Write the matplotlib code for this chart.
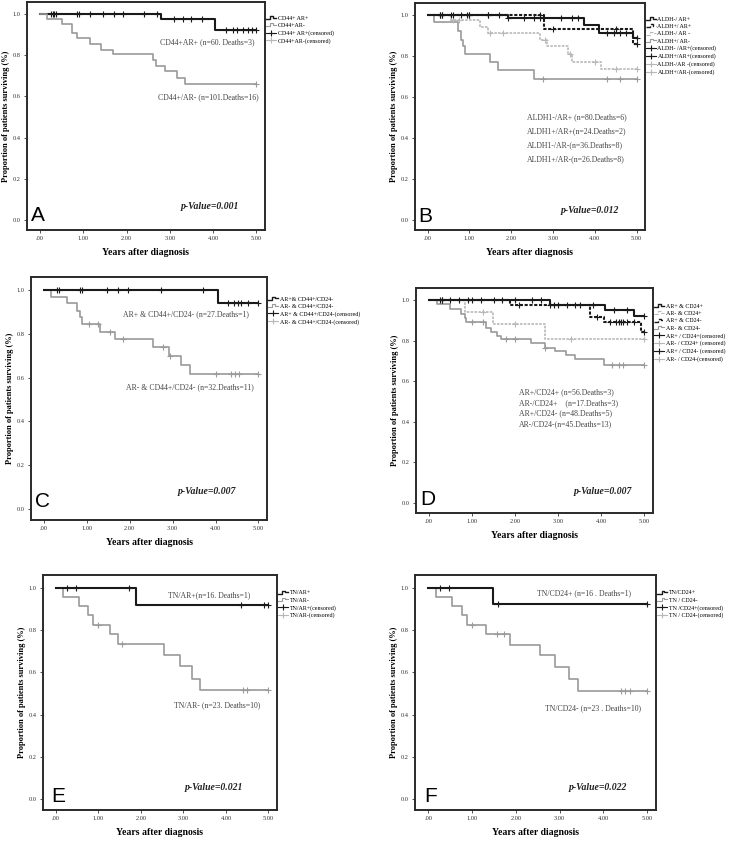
import matplotlib
matplotlib.use('Agg')
import matplotlib.pyplot as plt
import numpy as np
from matplotlib.lines import Line2D
from matplotlib.legend_handler import HandlerBase

plt.rcParams['font.family'] = ['Liberation Serif', 'DejaVu Serif']

# ---- panel A : CD44 / AR
a_pos_t = [0, 2.80, 4.05]
a_pos_s = [1.0, 0.979, 0.925]
a_pos_c = [0.25, 0.3, 0.33, 0.37, 0.85, 0.9, 1.15, 1.45, 1.7, 1.93, 2.4, 2.7,
           3.1, 3.3, 3.5, 3.75, 4.3, 4.45, 4.55, 4.7, 4.8, 4.9, 5.0]
a_neg_t = [0, 0.17, 0.52, 0.75, 0.85, 1.16, 1.41, 1.68, 2.62, 2.69, 2.89, 3.16, 3.35]
a_neg_s = [1.0, 0.979, 0.955, 0.909, 0.885, 0.857, 0.828, 0.806, 0.777, 0.748, 0.723, 0.691, 0.660]
a_neg_c = [5.0]

# ---- panel B : ALDH1 / AR
b1_t = [0, 1.93, 3.75, 4.10, 4.92]
b1_s = [1.0, 0.987, 0.952, 0.915, 0.890]
b1_c = [0.3, 0.35, 0.55, 0.8, 0.95, 1.0, 1.45, 1.7, 1.93, 2.3, 2.55, 2.7, 3.2,
        3.45, 3.6, 4.3, 4.45, 4.6, 4.75, 5.0]
b2_t = [0, 2.78, 4.92]
b2_s = [1.0, 0.935, 0.860]
b2_c = [0.3, 0.35, 0.6, 1.0, 1.45, 2.7, 3.0, 4.5, 5.0]
b3_t = [0, 0.55, 1.25, 1.45, 2.70, 2.85, 3.35, 3.45, 4.15]
b3_s = [1.0, 0.977, 0.945, 0.914, 0.880, 0.850, 0.810, 0.770, 0.735]
b3_c = [0.6, 0.75, 1.5, 1.8, 2.8, 3.4, 4.0, 4.5, 5.0]
b4_t = [0, 0.15, 0.74, 0.80, 0.85, 0.89, 1.50, 1.68, 2.55]
b4_s = [1.0, 0.965, 0.925, 0.880, 0.850, 0.810, 0.770, 0.730, 0.687]
b4_c = [2.75, 4.3, 4.6, 5.0]

# ---- panel C : AR & CD44+/CD24-
c_pos_t = [0, 4.06]
c_pos_s = [1.0, 0.940]
c_pos_c = [0.3, 0.35, 0.85, 0.9, 1.48, 1.72, 1.95, 2.72, 3.72, 4.3, 4.42, 4.52,
           4.6, 4.75, 5.0]
c_neg_t = [0, 0.17, 0.55, 0.78, 0.84, 0.89, 1.31, 1.65, 2.54, 2.91, 3.20, 3.40]
c_neg_s = [1.0, 0.969, 0.939, 0.906, 0.875, 0.844, 0.810, 0.777, 0.738, 0.700, 0.660, 0.617]
c_neg_c = [1.05, 1.25, 1.55, 1.85, 2.78, 2.95, 4.0, 4.35, 4.45, 4.55, 5.0]

# ---- panel D : AR / CD24
d1_t = [0, 2.80, 4.09, 4.77]
d1_s = [1.0, 0.975, 0.951, 0.920]
d1_c = [0.3, 0.5, 0.7, 0.9, 1.0, 1.2, 1.5, 1.7, 2.0, 2.4, 2.6, 2.8, 3.0, 3.2,
        3.4, 3.8, 4.3, 4.6, 5.0]
d2_t = [0, 0.83, 1.49, 2.69]
d2_s = [1.0, 0.943, 0.880, 0.810]
d2_c = [1.25, 2.0, 3.3, 5.0]
d3_t = [0, 1.88, 3.73, 4.07, 4.92]
d3_s = [1.0, 0.975, 0.916, 0.892, 0.843]
d3_c = [0.25, 0.3, 2.1, 2.9, 3.5, 3.9, 4.2, 4.35, 4.4, 4.45, 4.5, 4.6, 4.75, 5.0]
d4_t = [0, 0.18, 0.49, 0.74, 0.83, 0.87, 1.33, 1.45, 1.57, 1.68, 2.38, 2.69,
        2.92, 3.19, 3.38, 4.07]
d4_s = [1.0, 0.980, 0.955, 0.930, 0.910, 0.890, 0.865, 0.845, 0.825, 0.810,
        0.790, 0.765, 0.749, 0.728, 0.710, 0.679]
d4_c = [1.0, 1.25, 1.8, 2.0, 2.7, 4.25, 4.4, 4.5, 5.0]

# ---- panel E : TN / AR
e_pos_t = [0, 1.88]
e_pos_s = [1.0, 0.917]
e_pos_c = [0.27, 0.47, 1.72, 4.35, 4.9, 5.0]
e_neg_t = [0, 0.18, 0.54, 0.76, 0.88, 1.28, 1.47, 2.55, 2.91, 3.21, 3.39]
e_neg_s = [1.0, 0.957, 0.913, 0.870, 0.826, 0.780, 0.735, 0.680, 0.630, 0.570, 0.515]
e_neg_c = [1.0, 1.55, 4.4, 4.5, 5.0]

# ---- panel F : TN / CD24
f_pos_t = [0, 1.49]
f_pos_s = [1.0, 0.925]
f_pos_c = [0.27, 0.48, 1.6, 5.0]
f_neg_t = [0, 0.17, 0.54, 0.78, 0.88, 1.31, 1.86, 2.55, 2.90, 3.21, 3.42]
f_neg_s = [1.0, 0.957, 0.913, 0.870, 0.826, 0.780, 0.728, 0.680, 0.626, 0.570, 0.513]
f_neg_c = [1.0, 1.58, 1.72, 4.4, 4.5, 4.6, 5.0]

x_ticks = [0, 1, 2, 3, 4, 5]
x_ticklabels = ['.00', '1.00', '2.00', '3.00', '4.00', '5.00']
y_ticks = [0, 0.2, 0.4, 0.6, 0.8, 1.0]
y_ticklabels = ['0.0', '0.2', '0.4', '0.6', '0.8', '1.0']

BLK = '#1a1a1a'
GRY = '#9a9a9a'
LGRY = '#b8b8b8'
styles = {
    'k': dict(color=BLK, lw=1.5, ls='-'),
    'kd': dict(color=BLK, lw=1.5, ls=(0, (1.5, 0.8))),
    'g': dict(color=GRY, lw=1.2, ls='-'),
    'gd': dict(color=LGRY, lw=1.2, ls=(0, (1.5, 0.8))),
}
ANN = dict(fontsize=5.6, va='center', color='#444444')


class StepHandler(HandlerBase):
    def create_artists(self, legend, orig, xd, yd, w, h, fs, trans):
        x0, y0 = -xd, -yd
        xs = np.array([0, 0.45, 0.45, 0.75, 0.75, 1.0]) * w + x0
        ys = np.array([0.2, 0.2, 0.9, 0.9, 0.55, 0.55]) * h + y0
        ln = Line2D(xs, ys, color=orig.get_color(), lw=orig.get_linewidth(),
                    ls=orig.get_linestyle(), transform=trans)
        return [ln]


class CensHandler(HandlerBase):
    def create_artists(self, legend, orig, xd, yd, w, h, fs, trans):
        x0, y0 = -xd, -yd
        ln = Line2D([x0, x0 + w], [y0 + h / 2, y0 + h / 2], color=orig.get_color(),
                    lw=0.8, transform=trans)
        mk = Line2D([x0 + w / 2], [y0 + h / 2], color=orig.get_color(), marker='+',
                    ms=5, mew=0.8, ls='none', transform=trans)
        return [ln, mk]


class StepKey(Line2D):
    pass


class CensKey(Line2D):
    pass


def surv_at(t, s, c):
    idx = np.searchsorted(t, c, side='right') - 1
    return np.array(s)[idx]


def km(ax, t, s, c, key):
    st = styles[key]
    t_full = list(t) + [5.0]
    s_full = list(s) + [s[-1]]
    ax.step(t_full, s_full, where='post', color=st['color'], lw=st['lw'],
            ls=st['ls'], zorder=3)
    cy = surv_at(np.array(t), s, np.array(c))
    ax.plot(c, cy, ls='none', marker='+', ms=4.5, mew=0.8, color=st['color'], zorder=4)


def frame(ax, letter, pval, pxy, letter_xy):
    ax.set_xlim(-0.3, 5.2)
    ax.set_ylim(-0.05, 1.06)
    ax.set_xticks(x_ticks)
    ax.set_xticklabels(x_ticklabels)
    ax.set_yticks(y_ticks)
    ax.set_yticklabels(y_ticklabels)
    ax.tick_params(labelsize=4.6, length=2.5, width=0.6, colors='#333333', pad=2)
    for sp in ax.spines.values():
        sp.set_linewidth(1.4)
        sp.set_color('#2a2a2a')
    ax.set_xlabel('Years after diagnosis', fontsize=7, fontweight='bold', labelpad=5)
    ax.set_ylabel('Proportion of patients surviving (%)', fontsize=6, fontweight='bold',
                  labelpad=2)
    ax.text(pxy[0], pxy[1], 'p-Value=' + pval, fontsize=7, fontweight='bold',
            fontstyle='italic', ha='center', va='center', color='#222222')
    ax.text(letter_xy[0], letter_xy[1], letter, fontsize=15, family='Liberation Sans',
            ha='left', va='bottom', color='black')


def legend(ax, entries, y_top):
    handles, labels = [], []
    for lab, key, cens in entries:
        st = styles[key]
        if cens:
            h = CensKey([], [], color=st['color'], lw=0.8)
        else:
            h = StepKey([], [], color=st['color'], lw=1.0 if key.startswith('k') else 0.8,
                        ls=st['ls'])
        handles.append(h)
        labels.append(lab)
    ax.legend(handles, labels, loc='upper left', bbox_to_anchor=(1.005, y_top),
              frameon=False, fontsize=4.3, handlelength=1.6, handletextpad=0.3,
              labelspacing=0.35, borderaxespad=0, borderpad=0,
              handler_map={StepKey: StepHandler(), CensKey: CensHandler()})


fig = plt.figure(figsize=(7.36, 8.42), dpi=100)

W, H = 736.0, 842.0


def add_ax(l, t, r, b):
    return fig.add_axes([l / W, 1 - b / H, (r - l) / W, (b - t) / H])


# A
ax = add_ax(27, 2, 265, 230)
km(ax, a_pos_t, a_pos_s, a_pos_c, 'k')
km(ax, a_neg_t, a_neg_s, a_neg_c, 'g')
ax.text(3.86, 0.864, 'CD44+AR+ (n=60. Deaths=3)', ha='center', **ANN)
ax.text(3.90, 0.597, 'CD44+/AR- (n=101.Deaths=16)', ha='center', **ANN)
frame(ax, 'A', '0.001', (3.93, 0.063), (-0.2, -0.025))
legend(ax, [('CD44+ AR+', 'k', False), ('CD44+AR-', 'g', False),
            ('CD44+ AR+(censored)', 'k', True), ('CD44+AR-(censored)', 'gd', True)], 0.94)

# B
ax = add_ax(415, 3, 645, 230)
km(ax, b4_t, b4_s, b4_c, 'g')
km(ax, b3_t, b3_s, b3_c, 'gd')
km(ax, b2_t, b2_s, b2_c, 'kd')
km(ax, b1_t, b1_s, b1_c, 'k')
b_txt = ['ALDH1-/AR+ (n=80.Deaths=6)', 'ALDH1+/AR+(n=24.Deaths=2)',
         'ALDH1-/AR-(n=36.Deaths=8)', 'ALDH1+/AR-(n=26.Deaths=8)']
for i, s in enumerate(b_txt):
    ax.text(2.37, 0.502 - 0.068 * i, s, ha='left', **ANN)
frame(ax, 'B', '0.012', (3.89, 0.044), (-0.22, -0.03))
legend(ax, [('ALDH-/ AR+', 'k', False), ('ALDH+/ AR+', 'kd', False),
            ('ALDH-/ AR -', 'gd', False), ('ALDH+/ AR-', 'g', False),
            ('ALDH- /AR+(censored)', 'k', True), ('ALDH+/AR+(censored)', 'k', True),
            ('ALDH-/AR -(censored)', 'gd', True), ('ALDH+/AR-(censored)', 'gd', True)], 0.94)

# C
ax = add_ax(31, 277, 267, 520)
km(ax, c_neg_t, c_neg_s, c_neg_c, 'g')
km(ax, c_pos_t, c_pos_s, c_pos_c, 'k')
ax.text(3.31, 0.889, 'AR+ & CD44+/CD24- (n=27.Deaths=1)', ha='center', **ANN)
ax.text(3.40, 0.558, 'AR- & CD44+/CD24- (n=32.Deaths=11)', ha='center', **ANN)
frame(ax, 'C', '0.007', (3.81, 0.078), (-0.2, -0.01))
legend(ax, [('AR+& CD44+/CD24-', 'k', False), ('AR- & CD44+/CD24-', 'g', False),
            ('AR+ & CD44+/CD24-(censored)', 'k', True), ('AR- & CD44+/CD24-(censored)', 'gd', True)], 0.92)

# D
ax = add_ax(416, 288, 653, 513)
km(ax, d4_t, d4_s, d4_c, 'g')
km(ax, d2_t, d2_s, d2_c, 'gd')
km(ax, d3_t, d3_s, d3_c, 'kd')
km(ax, d1_t, d1_s, d1_c, 'k')
d_txt = ['AR+/CD24+ (n=56.Deaths=3)', 'AR-/CD24+    (n=17.Deaths=3)',
         'AR+/CD24- (n=48.Deaths=5)', 'AR-/CD24-(n=45.Deaths=13)']
for i, s in enumerate(d_txt):
    ax.text(2.1, 0.547 - 0.053 * i, s, ha='left', **ANN)
frame(ax, 'D', '0.007', (4.03, 0.054), (-0.2, -0.03))
legend(ax, [('AR+ & CD24+', 'k', False), ('AR- & CD24+', 'gd', False),
            ('AR+ & CD24-', 'kd', False), ('AR- & CD24-', 'g', False),
            ('AR+ / CD24+(censored)', 'k', True), ('AR- / CD24+ (censored)', 'gd', True),
            ('AR+ / CD24- (censored)', 'k', True), ('AR- / CD24-(censored)', 'gd', True)], 0.93)

# E
ax = add_ax(43, 575, 277, 810)
km(ax, e_neg_t, e_neg_s, e_neg_c, 'g')
km(ax, e_pos_t, e_pos_s, e_pos_c, 'k')
ax.text(3.60, 0.967, 'TN/AR+(n=16. Deaths=1)', ha='center', **ANN)
ax.text(3.79, 0.443, 'TN/AR- (n=23. Deaths=10)', ha='center', **ANN)
frame(ax, 'E', '0.021', (3.71, 0.057), (-0.1, -0.03))
legend(ax, [('TN/AR+', 'k', False), ('TN/AR-', 'g', False),
            ('TN/AR+(censored)', 'k', True), ('TN/AR-(censored)', 'gd', True)], 0.935)

# F
ax = add_ax(415, 575, 656, 810)
km(ax, f_neg_t, f_neg_s, f_neg_c, 'g')
km(ax, f_pos_t, f_pos_s, f_pos_c, 'k')
ax.text(3.55, 0.972, 'TN/CD24+ (n=16 . Deaths=1)', ha='center', **ANN)
ax.text(3.76, 0.429, 'TN/CD24- (n=23 . Deaths=10)', ha='center', **ANN)
frame(ax, 'F', '0.022', (3.87, 0.057), (-0.1, -0.03))
legend(ax, [('TN/CD24+', 'k', False), ('TN / CD24-', 'g', False),
            ('TN /CD24+(censored)', 'k', True), ('TN / CD24-(censored)', 'gd', True)], 0.935)

fig.savefig('out.png', dpi=100, facecolor='white')
